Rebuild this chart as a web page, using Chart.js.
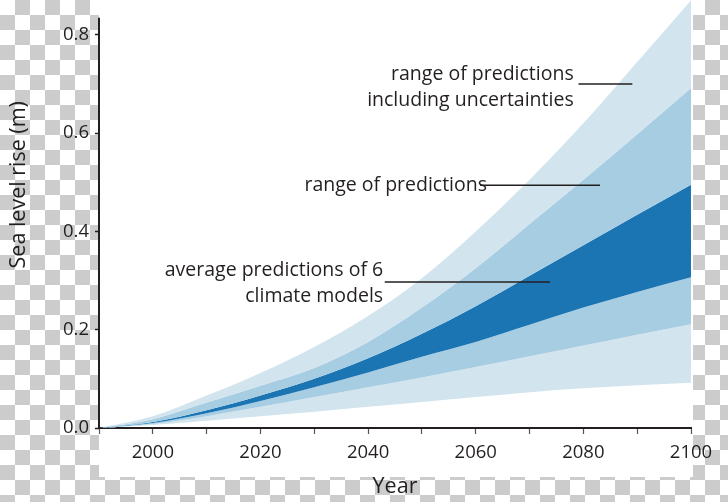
<!DOCTYPE html>
<html>
<head>
<meta charset="utf-8">
<script src="https://cdn.jsdelivr.net/npm/chart.js@4.4.0/dist/chart.umd.min.js"></script>
<style>
html, body { margin: 0; padding: 0; }
body {
    width: 728px; height: 502px; overflow: hidden;
    background: repeating-conic-gradient(#cccccc 0 25%, #ffffff 0 50%) 0 0 / 30px 30px;
}
#wrap { position: relative; width: 728px; height: 502px; }
</style>
</head>
<body>
<div id="wrap"><canvas id="seaChart"></canvas></div>
<script>
var years = [1990, 2000, 2010, 2020, 2030, 2040, 2050, 2060, 2070, 2080, 2090, 2100];

// band edges, top to bottom (m)
var upperWithUncertainty = [0, 0.024, 0.066, 0.112, 0.165, 0.228, 0.305, 0.400, 0.505, 0.620, 0.745, 0.870];
var upperRange           = [0, 0.018, 0.052, 0.086, 0.122, 0.175, 0.245, 0.325, 0.415, 0.505, 0.598, 0.692];
var upperAverage         = [0, 0.012, 0.036, 0.066, 0.100, 0.142, 0.192, 0.248, 0.310, 0.372, 0.434, 0.495];
var lowerAverage         = [0, 0.010, 0.030, 0.055, 0.083, 0.113, 0.145, 0.175, 0.210, 0.245, 0.277, 0.307];
var lowerRange           = [0, 0.008, 0.024, 0.043, 0.063, 0.083, 0.103, 0.124, 0.146, 0.168, 0.190, 0.211];
var lowerWithUncertainty = [0, 0.006, 0.015, 0.024, 0.033, 0.043, 0.053, 0.063, 0.073, 0.081, 0.087, 0.092];

var xTicks = [1990, 2000, 2010, 2020, 2030, 2040, 2050, 2060, 2070, 2080, 2090, 2100];
var xTickLabels = [2000, 2020, 2040, 2060, 2080, 2100];
var yTicks = [0, 0.2, 0.4, 0.6, 0.8];

var lightBlue = '#d2e4ee';
var midBlue = '#a7cde3';
var darkBlue = '#1c75b3';
var ink = '#231f20';
var font = '"Open Sans", "DejaVu Sans", sans-serif';

function toPoints(arr) {
    return arr.map(function (v, i) { return { x: years[i], y: v }; });
}

function band(label, arr, color) {
    return {
        label: label,
        data: toPoints(arr),
        fill: color ? '+1' : false,
        backgroundColor: color || 'transparent',
        borderWidth: 0,
        pointRadius: 0,
        cubicInterpolationMode: 'monotone'
    };
}

// annotations are placed in data units (year, metres)
var notes = [
    { lines: ['range of predictions', 'including uncertainties'], x: 2078.2, y: 0.720, gap: 0.053,
      from: 2079.1, to: 2089.1, at: 0.700 },
    { lines: ['range of predictions'], x: 2062.1, y: 0.494, gap: 0,
      from: 2060.8, to: 2083.1, at: 0.494 },
    { lines: ['average predictions of 6', 'climate models'], x: 2042.8, y: 0.321, gap: 0.054,
      from: 2043.1, to: 2073.8, at: 0.297 }
];

var decor = {
    id: 'decor',
    beforeDraw: function (chart) {
        var c = chart.ctx, a = chart.chartArea;
        c.save();
        c.fillStyle = '#ffffff';
        c.fillRect(a.left, 0, a.right - a.left + 2, chart.height - 25);
        c.restore();
    },
    afterDatasetsDraw: function (chart) {
        var c = chart.ctx, xs = chart.scales.x, ys = chart.scales.y;
        c.save();
        c.fillStyle = ink;
        c.strokeStyle = ink;
        c.font = '19.5px ' + font;
        c.textAlign = 'right';
        c.textBaseline = 'middle';
        notes.forEach(function (n) {
            n.lines.forEach(function (t, i) {
                c.fillText(t, xs.getPixelForValue(n.x), ys.getPixelForValue(n.y - i * n.gap));
            });
            c.lineWidth = 1.5;
            c.beginPath();
            c.moveTo(xs.getPixelForValue(n.from), ys.getPixelForValue(n.at));
            c.lineTo(xs.getPixelForValue(n.to), ys.getPixelForValue(n.at));
            c.stroke();
        });
        // y axis line (stops a little above the last tick)
        c.lineWidth = 2;
        c.beginPath();
        c.moveTo(xs.left, ys.getPixelForValue(0.835));
        c.lineTo(xs.left, ys.getPixelForValue(0) + 1);
        c.stroke();
        // y axis title
        c.translate(19, ys.getPixelForValue(0.495));
        c.rotate(-Math.PI / 2);
        c.textAlign = 'center';
        c.font = '21.5px ' + font;
        c.fillText('Sea level rise (m)', 0, 0);
        c.restore();
    }
};

var ctx = document.getElementById('seaChart').getContext('2d');
var seaChart = new Chart(ctx, {
    type: 'line',
    data: {
        datasets: [
            band('upper with uncertainties', upperWithUncertainty, lightBlue),
            band('upper range', upperRange, midBlue),
            band('upper average', upperAverage, darkBlue),
            band('lower average', lowerAverage, midBlue),
            band('lower range', lowerRange, lightBlue),
            band('lower with uncertainties', lowerWithUncertainty, null)
        ]
    },
    options: {
        responsive: true,
        maintainAspectRatio: false,
        animation: false,
        layout: { padding: { top: 0, right: 37, left: 0, bottom: 0 } },
        plugins: {
            legend: { display: false },
            tooltip: { enabled: false }
        },
        scales: {
            x: {
                type: 'linear',
                min: 1990,
                max: 2100,
                afterBuildTicks: function (s) { s.ticks = xTicks.map(function (v) { return { value: v }; }); },
                afterFit: function (s) { s.height = 74; s.paddingLeft = 0; s.paddingRight = 0; },
                ticks: {
                    autoSkip: false,
                    maxRotation: 0,
                    padding: 8,
                    color: ink,
                    font: { family: font, size: 18.5 },
                    callback: function (v) { return xTickLabels.indexOf(v) >= 0 ? String(v) : ''; }
                },
                grid: { drawOnChartArea: false, tickLength: 6, color: '#555555', tickWidth: 1.2 },
                border: { display: true, color: ink, width: 2 },
                title: {
                    display: true,
                    text: 'Year',
                    color: ink,
                    font: { family: font, size: 21.5 },
                    padding: { top: 0, bottom: 2 }
                }
            },
            y: {
                min: 0,
                max: 0.871,
                afterBuildTicks: function (s) { s.ticks = yTicks.map(function (v) { return { value: v }; }); },
                afterFit: function (s) { s.width = 99; s.paddingTop = 0; s.paddingBottom = 0; },
                ticks: {
                    padding: 6,
                    color: ink,
                    font: { family: font, size: 18.5 },
                    callback: function (v) { return v.toFixed(1); }
                },
                grid: { drawOnChartArea: false, tickLength: 4, color: ink, tickWidth: 1.5 },
                border: { display: false }
            }
        }
    },
    plugins: [decor]
});
</script>
</body>
</html>
